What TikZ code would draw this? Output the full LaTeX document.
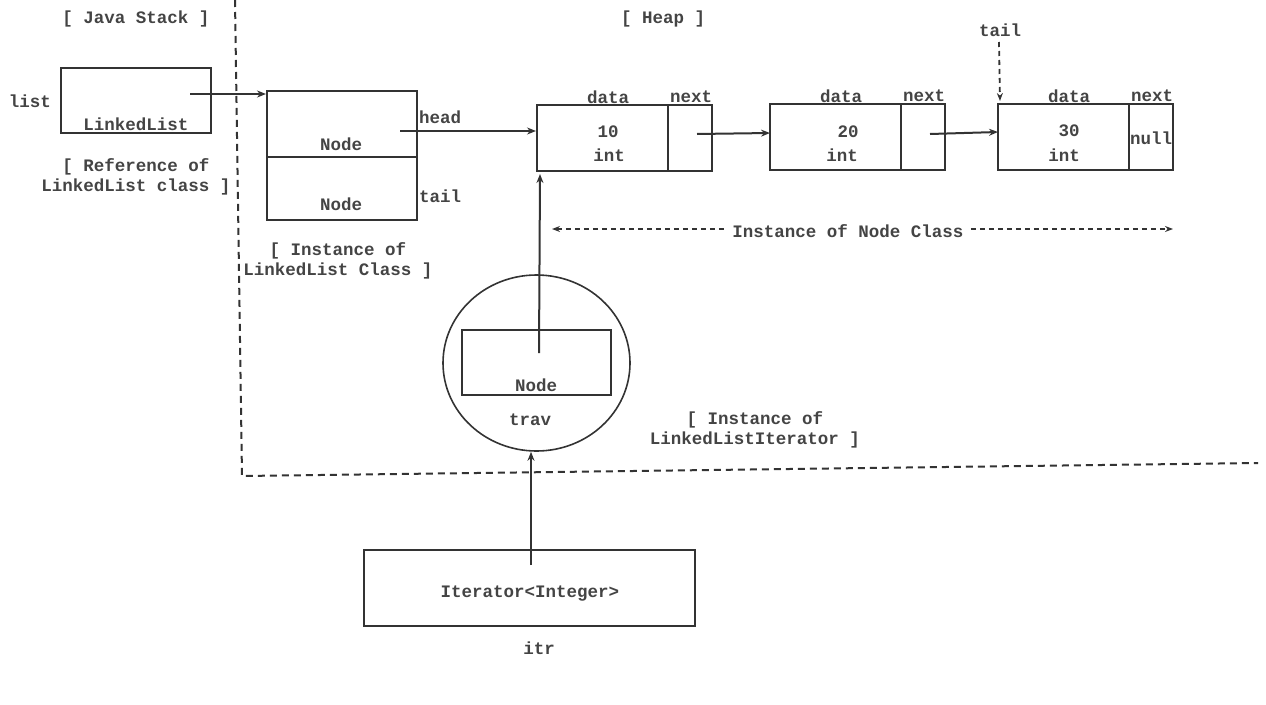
\documentclass[tikz,border=0pt]{standalone}
\usepackage{fontspec}
\setmainfont{Liberation Mono}
\usetikzlibrary{arrows.meta,shapes.geometric}
\definecolor{ink}{HTML}{333333}
\definecolor{txt}{HTML}{444444}
\begin{document}
\begin{tikzpicture}[x=1pt,y=-1pt,
  every node/.style={font=\fontsize{17.5}{20}\selectfont\bfseries, text=txt, inner sep=0pt},
  box/.style={draw=ink, line width=2pt},
  lbl/.style={align=center},
  arr/.style={draw=ink, line width=2pt, -{Stealth[length=9pt,width=7pt]}},
  darr/.style={draw=ink, line width=1.8pt, dash pattern=on 5pt off 4pt, -{Stealth[length=8pt,width=6pt]}},
  sep/.style={draw=ink, line width=2pt, dash pattern=on 7pt off 5pt},
]
\useasboundingbox (0,0) rectangle (1266,704);

% separator
\coordinate (sa) at (235,0);
\coordinate (sb) at (242,476);
\coordinate (sc) at (1258,463);
\draw[sep] (sa) -- (sb) -- (sc);

% titles
\node (js) at (136,19) {[ Java Stack ]};
\node (hp) at (663,19) {[ Heap ]};

% stack reference
\node[box, minimum width=150pt, minimum height=65pt] (ll) at (136,100.5) {};
\node (lltxt) at (136,124) {LinkedList};
\node (listlbl) at (30,101) {list};
\node[lbl] (refl) at (136,177) {[ Reference of\\LinkedList class ]};

% LinkedList instance
\node[box, minimum width=150pt, minimum height=129pt] (inst) at (342,155.5) {};
\coordinate (dva) at (267,157);
\coordinate (dvb) at (417,157);
\draw[box] (dva) -- (dvb);
\node (instn1) at (341,144) {Node};
\node (instn2) at (341,204) {Node};
\node (headl) at (440,117) {head};
\node (taill) at (440,196) {tail};
\node[lbl] (instl) at (338,261) {[ Instance of\\LinkedList Class ]};

% list nodes
\node[box, minimum width=175pt, minimum height=66pt] (n1) at (624.5,138) {};
\draw[box] (668,105) -- (668,171);
\node (d1) at (608,97) {data};
\node (x1) at (691,97) {next};
\node (v1) at (608,132) {10};
\node (t1) at (609,155) {int};

\node[box, minimum width=175pt, minimum height=66pt] (n2) at (857.5,137) {};
\draw[box] (901,104) -- (901,170);
\node (d2) at (841,96) {data};
\node (x2) at (924,96) {next};
\node (v2) at (848,132) {20};
\node (t2) at (842,155) {int};

\node[box, minimum width=175pt, minimum height=66pt] (n3) at (1085.5,137) {};
\draw[box] (1129,104) -- (1129,170);
\node (d3) at (1069,96) {data};
\node (x3) at (1152,96) {next};
\node (v3) at (1069,131) {30};
\node (t3) at (1064,155) {int};
\node (nul) at (1151,138) {null};

\node (tailtop) at (1000,30) {tail};

% arrows between nodes
\coordinate (s1) at (190,94);
\draw[arr] (s1) -- (s1 -| inst.west);
\coordinate (s2) at (400,131);
\draw[arr] (s2) -- (s2 -| n1.west);
\coordinate (s3) at (697,134);
\draw[arr] (s3) -- (770,133);
\coordinate (s4) at (930,134);
\coordinate (e4) at (998,132);
\draw[arr] (s4) -- (e4);
\coordinate (tt) at (999,42);
\coordinate (te) at (1000,101);
\draw[darr] (tt) -- (te);

% instance of node class
\coordinate (na) at (552,229);
\coordinate (nb) at (1173,229);
\draw[darr, {Stealth[length=8pt,width=6pt]}-{Stealth[length=8pt,width=6pt]}] (na) -- (nb);
\node[fill=white, inner xsep=6pt, inner ysep=2pt] (inc) at (848,231) {Instance of Node Class};

% iterator instance
\node[draw=ink, line width=1.6pt, ellipse, minimum width=187pt, minimum height=176pt] (circ) at (536.5,363) {};
\node[box, minimum width=149pt, minimum height=65pt] (inner) at (536.5,362.5) {};
\node (innert) at (536,385) {Node};
\node (trav) at (530,420) {trav};
\node[lbl] (itl) at (755,430) {[ Instance of\\LinkedListIterator ]};
\coordinate (s7) at (539,353);
\coordinate (e7) at (540,174);
\draw[arr] (s7) -- (e7);

% iterator reference
\node[box, minimum width=331pt, minimum height=76pt] (itr) at (529.5,588) {};
\node (itrt) at (530,594) {Iterator<Integer>};
\node (itrl) at (539,648) {itr};
\coordinate (s8) at (531,565);
\draw[arr] (s8) -- (s8 |- circ.south);
\end{tikzpicture}
\end{document}
